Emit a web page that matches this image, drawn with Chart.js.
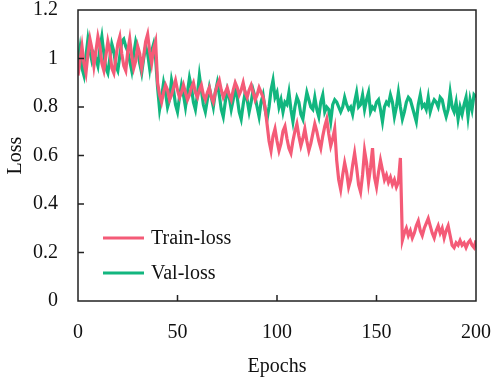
<!DOCTYPE html>
<html>
<head>
<meta charset="utf-8">
<script src="https://cdn.jsdelivr.net/npm/chart.js@4"></script>
<style>
  html, body { margin: 0; padding: 0; background: #fff; }
  #wrap { width: 493px; height: 383px; }
</style>
</head>
<body>
<div id="wrap"><canvas id="loss-chart" width="493" height="383"></canvas></div>
<script>
// Data, one value per epoch (0..200)
const trainLoss = [
  0.93, 0.99, 1.05, 0.98, 0.94, 1.02, 1.08, 1.04, 0.97, 1.03,
  1.09, 1.05, 0.98, 0.95, 1.01, 1.07, 1.03, 0.96, 0.94, 1.00,
  1.06, 1.09, 1.02, 0.97, 0.95, 1.03, 1.08, 1.01, 0.96, 0.99,
  1.05, 1.02, 0.96, 1.01, 1.07, 1.10, 1.03, 0.98, 1.04, 1.07,
  0.90, 0.85, 0.82, 0.86, 0.89, 0.87, 0.83, 0.85, 0.88, 0.91,
  0.87, 0.84, 0.86, 0.89, 0.86, 0.83, 0.85, 0.88, 0.90, 0.86,
  0.84, 0.87, 0.89, 0.85, 0.83, 0.86, 0.88, 0.84, 0.82, 0.86,
  0.89, 0.91, 0.87, 0.84, 0.86, 0.88, 0.85, 0.83, 0.87, 0.90,
  0.88, 0.85, 0.87, 0.90, 0.86, 0.84, 0.87, 0.89, 0.86, 0.83,
  0.85, 0.88, 0.86, 0.84, 0.80, 0.73, 0.66, 0.62, 0.68, 0.71,
  0.66, 0.62, 0.65, 0.70, 0.72, 0.67, 0.63, 0.61, 0.66, 0.70,
  0.73, 0.68, 0.64, 0.67, 0.71, 0.66, 0.62, 0.65, 0.69, 0.73,
  0.70, 0.66, 0.63, 0.68, 0.72, 0.75, 0.69, 0.64, 0.67, 0.71,
  0.58, 0.50, 0.46, 0.52, 0.57, 0.53, 0.47, 0.50, 0.56, 0.61,
  0.55, 0.48, 0.45, 0.52, 0.62, 0.57, 0.49, 0.55, 0.63, 0.51,
  0.47, 0.53, 0.58, 0.54, 0.50, 0.52, 0.49, 0.51, 0.48, 0.50,
  0.47, 0.49, 0.59, 0.25, 0.28, 0.30, 0.27, 0.29, 0.26, 0.28,
  0.31, 0.33, 0.29, 0.27, 0.30, 0.32, 0.34, 0.31, 0.28, 0.26,
  0.29, 0.31, 0.28, 0.30, 0.26, 0.29, 0.31, 0.27, 0.23, 0.22,
  0.24, 0.23, 0.25, 0.23, 0.24, 0.22, 0.24, 0.25, 0.23, 0.22,
  0.25
];
const valLoss = [
  0.98, 1.04, 0.96, 0.93, 1.01, 1.08, 1.03, 0.99, 1.02, 1.00,
  0.97, 1.04, 1.09, 1.02, 0.96, 0.94, 1.00, 1.06, 1.03, 0.97,
  0.95, 1.01, 1.07, 1.08, 1.05, 1.03, 0.99, 0.95, 1.02, 1.07,
  1.04, 0.98, 0.94, 1.00, 1.05, 1.02, 0.96, 1.03, 1.06, 1.00,
  0.88, 0.79, 0.84, 0.90, 0.86, 0.80, 0.83, 0.91, 0.87, 0.81,
  0.78, 0.84, 0.89, 0.85, 0.80, 0.86, 0.92, 0.88, 0.82, 0.79,
  0.85, 0.93, 0.87, 0.81, 0.78, 0.83, 0.88, 0.84, 0.80, 0.86,
  0.90, 0.85, 0.79, 0.76, 0.82, 0.87, 0.84, 0.79, 0.83, 0.88,
  0.84, 0.78, 0.75, 0.81, 0.86, 0.83, 0.78, 0.82, 0.87, 0.84,
  0.80, 0.76, 0.82, 0.85, 0.79, 0.75, 0.80, 0.87, 0.91, 0.84,
  0.86, 0.80, 0.83, 0.78, 0.82, 0.81, 0.86, 0.79, 0.74, 0.80,
  0.84, 0.82, 0.77, 0.75, 0.81, 0.86, 0.83, 0.80, 0.79, 0.84,
  0.79, 0.76, 0.82, 0.85, 0.78, 0.80, 0.79, 0.74, 0.81, 0.83,
  0.82, 0.80, 0.78, 0.80, 0.84, 0.81, 0.79, 0.80, 0.77, 0.82,
  0.86, 0.80, 0.81, 0.85, 0.79, 0.83, 0.86, 0.78, 0.80, 0.79,
  0.82, 0.83, 0.79, 0.74, 0.80, 0.82, 0.81, 0.85, 0.82, 0.76,
  0.80, 0.86, 0.80, 0.75, 0.78, 0.82, 0.84, 0.83, 0.80, 0.77,
  0.74, 0.81, 0.85, 0.80, 0.81, 0.79, 0.84, 0.78, 0.81, 0.83,
  0.82, 0.80, 0.84, 0.83, 0.79, 0.76, 0.79, 0.86, 0.80, 0.78,
  0.82, 0.75, 0.80, 0.77, 0.81, 0.84, 0.76, 0.83, 0.79, 0.85,
  0.84
];
const xTicks = [0, 50, 100, 150, 200];
const yTicks = [0, 0.2, 0.4, 0.6, 0.8, 1, 1.2];

const trainColor = '#F45B77';
const valColor = '#12B67F';
const fontFamily = '"Liberation Serif", "Times New Roman", serif';

function toPoints(values) {
    return values.map((v, i) => ({ x: i, y: v }));
}

// Box around plot area plus inward ticks
const framePlugin = {
    id: 'frame',
    afterDraw(chart) {
        const ctx = chart.ctx;
        const a = chart.chartArea;
        const xs = chart.scales.x;
        const ys = chart.scales.y;
        ctx.save();
        ctx.strokeStyle = '#222';
        ctx.lineWidth = 1.5;
        ctx.strokeRect(a.left, a.top, a.right - a.left, a.bottom - a.top);
        ctx.beginPath();
        xTicks.slice(1, -1).forEach(t => {
            const px = xs.getPixelForValue(t);
            ctx.moveTo(px, a.bottom);
            ctx.lineTo(px, a.bottom - 6);
        });
        yTicks.slice(1, -1).forEach(t => {
            const py = ys.getPixelForValue(t);
            ctx.moveTo(a.left, py);
            ctx.lineTo(a.left + 6, py);
        });
        ctx.stroke();
        ctx.restore();
    }
};

// Legend inside the lower-left corner
const legendPlugin = {
    id: 'innerLegend',
    afterDraw(chart) {
        const ctx = chart.ctx;
        const a = chart.chartArea;
        ctx.save();
        ctx.font = '20px ' + fontFamily;
        ctx.textBaseline = 'middle';
        chart.data.datasets.forEach((ds, i) => {
            const y = a.top + 228 + i * 35;
            ctx.strokeStyle = ds.borderColor;
            ctx.lineWidth = 3;
            ctx.beginPath();
            ctx.moveTo(a.left + 25, y);
            ctx.lineTo(a.left + 66, y);
            ctx.stroke();
            ctx.fillStyle = '#111';
            ctx.fillText(ds.label, a.left + 73, y + 1);
        });
        ctx.restore();
    }
};

const ctx = document.getElementById('loss-chart').getContext('2d');
new Chart(ctx, {
    type: 'line',
    data: {
        datasets: [
            {
                label: 'Train-loss',
                data: toPoints(trainLoss),
                borderColor: trainColor,
                borderWidth: 3.2,
                pointRadius: 0,
                tension: 0
            },
            {
                label: 'Val-loss',
                data: toPoints(valLoss),
                borderColor: valColor,
                borderWidth: 3.2,
                pointRadius: 0,
                tension: 0
            }
        ]
    },
    options: {
        responsive: false,
        animation: false,
        layout: { padding: 0 },
        plugins: {
            legend: { display: false },
            tooltip: { enabled: false }
        },
        scales: {
            x: {
                type: 'linear',
                min: 0,
                max: 200,
                grid: { display: false },
                border: { display: false },
                afterBuildTicks: scale => { scale.ticks = xTicks.map(v => ({ value: v })); },
                afterFit: scale => {
                    scale.height = 82;
                    scale.paddingLeft = 0;
                    scale.paddingRight = 17;
                },
                ticks: {
                    padding: 12,
                    color: '#111',
                    font: { family: fontFamily, size: 20 }
                },
                title: {
                    display: true,
                    text: 'Epochs',
                    color: '#111',
                    padding: { top: 6 },
                    font: { family: fontFamily, size: 20 }
                }
            },
            y: {
                min: 0,
                max: 1.2,
                grid: { display: false },
                border: { display: false },
                afterBuildTicks: scale => { scale.ticks = yTicks.map(v => ({ value: v })); },
                afterFit: scale => {
                    scale.width = 78;
                    scale.paddingTop = 10;
                    scale.paddingBottom = 0;
                },
                ticks: {
                    padding: 12,
                    color: '#111',
                    font: { family: fontFamily, size: 20 },
                    callback: v => String(v)
                },
                title: {
                    display: true,
                    text: 'Loss',
                    color: '#111',
                    padding: { bottom: 0 },
                    font: { family: fontFamily, size: 20 }
                }
            }
        }
    },
    plugins: [framePlugin, legendPlugin]
});
</script>
</body>
</html>
